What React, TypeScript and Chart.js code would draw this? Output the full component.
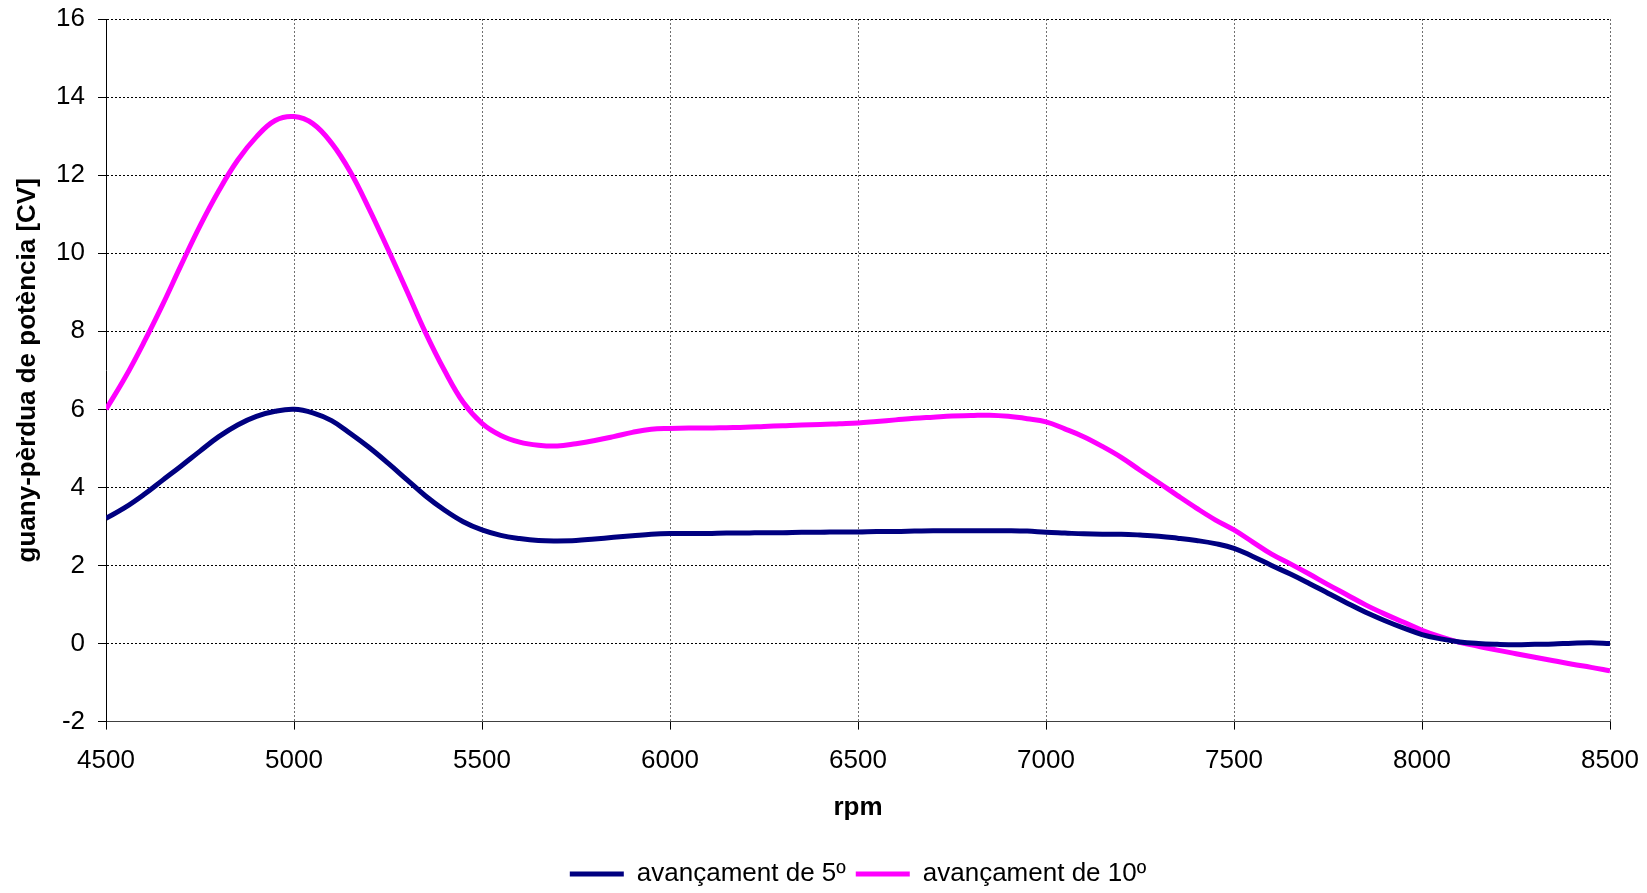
import React, { useEffect, useRef } from "react";
import { Chart, registerables } from "chart.js";

Chart.register(...registerables);

const rpm: number[] = [
  4500, 4550, 4600, 4650, 4700, 4750, 4800, 4850, 4900, 4950,
  5000, 5050, 5100, 5150, 5200, 5250, 5300, 5350, 5400, 5450,
  5500, 5550, 5600, 5650, 5700, 5750, 5800, 5850, 5900, 5950,
  6000, 6050, 6100, 6150, 6200, 6250, 6300, 6350, 6400, 6450,
  6500, 6550, 6600, 6650, 6700, 6750, 6800, 6850, 6900, 6950,
  7000, 7050, 7100, 7150, 7200, 7250, 7300, 7350, 7400, 7450,
  7500, 7550, 7600, 7650, 7700, 7750, 7800, 7850, 7900, 7950,
  8000, 8050, 8100, 8150, 8200, 8250, 8300, 8350, 8400, 8450, 8500,
];

const avanc5: number[] = [
  3.21, 3.48, 3.81, 4.18, 4.55, 4.93, 5.3, 5.6, 5.82, 5.95,
  6.0, 5.91, 5.71, 5.38, 5.02, 4.62, 4.2, 3.78, 3.42, 3.12,
  2.91, 2.77, 2.69, 2.64, 2.63, 2.64, 2.68, 2.72, 2.76, 2.8,
  2.82, 2.82, 2.82, 2.83, 2.83, 2.84, 2.84, 2.85, 2.85, 2.86,
  2.86, 2.87, 2.87, 2.88, 2.89, 2.89, 2.89, 2.89, 2.89, 2.88,
  2.85, 2.83, 2.81, 2.8, 2.8, 2.78, 2.75, 2.7, 2.64, 2.56,
  2.44, 2.23, 2.0, 1.78, 1.54, 1.29, 1.04, 0.8, 0.59, 0.4,
  0.23, 0.12, 0.04, 0.0, -0.02, -0.03, -0.02, -0.01, 0.01, 0.02, 0.0,
];

const avanc10: number[] = [
  6.0, 6.8, 7.7, 8.67, 9.7, 10.7, 11.6, 12.38, 12.98, 13.4,
  13.5, 13.32, 12.82, 12.08, 11.13, 10.1, 9.04, 7.96, 7.0, 6.18,
  5.64, 5.33, 5.16, 5.08, 5.06, 5.12, 5.2, 5.3, 5.41, 5.49,
  5.51, 5.52, 5.52, 5.53, 5.54, 5.56, 5.58, 5.6, 5.61, 5.63,
  5.65, 5.69, 5.73, 5.77, 5.8, 5.83, 5.84, 5.85, 5.82, 5.76,
  5.68, 5.5, 5.3, 5.05, 4.77, 4.44, 4.12, 3.79, 3.47, 3.17,
  2.91, 2.6, 2.29, 2.04, 1.78, 1.51, 1.25, 0.99, 0.76, 0.55,
  0.34, 0.17, 0.03, -0.07, -0.17, -0.26, -0.35, -0.44, -0.53, -0.61, -0.7,
];

const seriesNames: string[] = ["avançament de 5º", "avançament de 10º"];
const xTitle = "rpm";
const yTitle = "guany-pèrdua de potència [CV]";

export default function App() {
  const ref = useRef<HTMLCanvasElement | null>(null);

  useEffect(() => {
    document.body.style.margin = "0";
    const canvas = ref.current;
    if (!canvas) return;
    Chart.defaults.font.family = "'Liberation Sans', Arial, sans-serif";
    Chart.defaults.color = "#000";

    const chart = new Chart(canvas, {
      type: "line",
      data: {
        datasets: [
          {
            label: seriesNames[0],
            data: rpm.map((x, i) => ({ x, y: avanc5[i] })),
            borderColor: "#000080",
            backgroundColor: "#000080",
            borderWidth: 5,
            pointRadius: 0,
            tension: 0.4,
          },
          {
            label: seriesNames[1],
            data: rpm.map((x, i) => ({ x, y: avanc10[i] })),
            borderColor: "#FF00FF",
            backgroundColor: "#FF00FF",
            borderWidth: 5,
            pointRadius: 0,
            tension: 0.4,
          },
        ],
      },
      options: {
        animation: false,
        responsive: false,
        devicePixelRatio: 1,
        layout: { padding: { left: 0, right: 37, top: 19, bottom: -4 } },
        plugins: {
          tooltip: { enabled: false },
          legend: {
            position: "bottom",
            fullSize: false,
            labels: {
              usePointStyle: true,
              pointStyle: "line",
              pointStyleWidth: 54,
              boxWidth: 54,
              padding: 10,
              font: { size: 26 },
              color: "#000",
            },
          },
        },
        scales: {
          x: {
            type: "linear",
            min: 4500,
            max: 8500,
            ticks: {
              stepSize: 500,
              font: { size: 26 },
              color: "#000",
              padding: 16,
              maxRotation: 0,
              callback: (v: any) => String(v),
            },
            grid: {
              color: "#707070",
              tickColor: "#000",
              tickLength: 8,
              tickBorderDash: [],
            } as any,
            border: { display: true, color: "#404040", width: 1, dash: [2, 2] },
            title: {
              display: true,
              text: xTitle,
              font: { size: 26, weight: "bold" },
              color: "#000",
              padding: { top: 0, bottom: 28 },
            },
            afterFit: (scale: any) => {
              scale.height = 129.4;
              scale.paddingLeft = 0;
              scale.paddingRight = 0;
            },
          },
          y: {
            type: "linear",
            min: -2,
            max: 16,
            ticks: {
              stepSize: 2,
              font: { size: 26 },
              color: "#000",
              padding: 13,
              callback: (v: any) => String(v),
            },
            grid: {
              color: "#000",
              tickColor: "#000",
              tickLength: 8,
              tickBorderDash: [],
            } as any,
            border: { display: true, color: "#000", width: 1, dash: [2, 2] },
            title: {
              display: true,
              text: yTitle,
              font: { size: 26, weight: "bold" },
              color: "#000",
              padding: { top: 12, bottom: 0 },
            },
            afterFit: (scale: any) => {
              scale.width = 106;
              scale.paddingTop = 0;
              scale.paddingBottom = 0;
            },
          },
        },
      } as any,
    });
    return () => chart.destroy();
  }, []);

  return (
    <div style={{ width: 1647, height: 893 }}>
      <canvas ref={ref} width={1647} height={893} style={{ display: "block" }} />
    </div>
  );
}
